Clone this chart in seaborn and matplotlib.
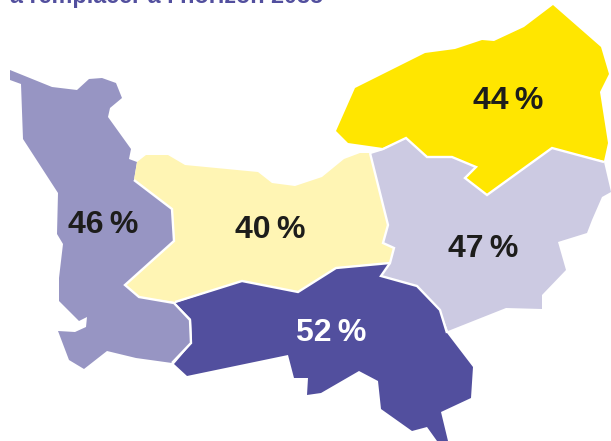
import matplotlib
matplotlib.use("Agg")
import matplotlib.pyplot as plt
import seaborn as sns

## Data
departements = ["Manche", "Calvados", "Eure", "Seine-Maritime", "Orne"]
shares = [46, 40, 47, 44, 52]
colours = ["#9795C3", "#FFF5B4", "#CCCAE2", "#FFE600", "#524F9E"]
text_colours = ["#1D1D1B", "#1D1D1B", "#1D1D1B", "#1D1D1B", "#FFFFFF"]
title = "à remplacer à l’horizon 2035"

# Outlines, in pixels
manche = [(10, 70), (10, 80), (21, 84), (23, 139), (58, 193), (57, 234), (63, 244), (59, 278),
          (59, 301), (79, 321), (87, 317), (86, 327), (75, 332), (58, 331), (69, 360), (84, 369),
          (107, 351), (136, 358), (172, 363), (191, 343), (190, 320), (174, 303), (139, 297),
          (125, 285), (174, 241), (172, 209), (134, 180), (137, 162), (129, 159), (131, 149),
          (108, 117), (110, 108), (122, 98), (116, 83), (102, 78), (89, 79), (77, 90), (52, 87)]
calvados = [(134, 180), (137, 162), (146, 155), (168, 155), (185, 165), (258, 172), (272, 183),
            (295, 186), (322, 177), (344, 159), (360, 153), (370, 153), (388, 225), (383, 243),
            (394, 248), (390, 263), (336, 268), (298, 292), (242, 281), (175, 302), (139, 297),
            (125, 285), (174, 241), (172, 209)]
eure = [(370, 153), (383, 150), (406, 138), (427, 157), (452, 157), (476, 167), (465, 178),
        (487, 195), (552, 148), (604, 162), (611, 192), (602, 197), (592, 220), (587, 233),
        (558, 242), (566, 270), (542, 295), (542, 309), (506, 308), (448, 331), (440, 310),
        (417, 286), (381, 276), (390, 263), (394, 248), (383, 243), (388, 225)]
seine_maritime = [(336, 131), (355, 88), (425, 53), (455, 49), (482, 40), (494, 41), (524, 27),
                  (553, 5), (601, 47), (609, 74), (600, 92), (608, 143), (604, 161), (552, 148),
                  (487, 195), (465, 178), (476, 167), (452, 157), (427, 157), (406, 138),
                  (383, 148), (348, 143)]
orne = [(175, 303), (242, 281), (298, 292), (336, 268), (390, 263), (381, 276), (417, 286),
        (440, 310), (447, 333), (473, 367), (471, 398), (441, 412), (448, 441), (437, 441),
        (427, 427), (412, 431), (381, 409), (378, 381), (359, 371), (321, 393), (307, 395),
        (308, 378), (294, 378), (288, 355), (187, 376), (174, 364), (192, 343), (191, 319)]
outlines = [manche, calvados, eure, seine_maritime, orne]

# White borders between departements, the coast has none
border_manche = [(134, 180), (172, 209), (174, 241), (125, 285), (139, 297), (174, 303),
                 (190, 320), (191, 343), (172, 363)]
border_calvados = [(370, 153), (388, 225), (383, 243), (394, 248), (390, 263), (336, 268),
                   (298, 292), (242, 281), (175, 302)]
border_eure = [(604, 162), (552, 148), (487, 195), (465, 178), (476, 167), (452, 157),
               (427, 157), (406, 138), (383, 149), (370, 153)]
border_orne = [(390, 263), (381, 276), (417, 286), (440, 310), (447, 333)]
borders = [border_manche, border_calvados, border_eure, border_orne]

label_x = [103, 270, 483, 508, 331]
label_y = [225, 230, 249, 101, 333]

## Chart
sns.set_theme(style="white")
plt.rcParams["font.family"] = ["Liberation Sans", "DejaVu Sans"]

fig = plt.figure(figsize=(6.11, 4.41), dpi=100)
ax = fig.add_axes([0, 0, 1, 1])
ax.set_xlim(0, 611)
ax.set_ylim(441, 0)
ax.axis("off")

for outline, colour in zip(outlines, colours):
    xs, ys = zip(*outline)
    ax.fill(xs, ys, facecolor=colour, edgecolor="none")

for border in borders:
    xs, ys = zip(*border)
    ax.plot(xs, ys, color="white", linewidth=1.7, solid_joinstyle="miter", solid_capstyle="butt")

for share, x, y, colour in zip(shares, label_x, label_y, text_colours):
    ax.text(x, y, f"{share}\u2009%", color=colour, fontsize=23, fontweight="bold",
            ha="center", va="center")

# Title is cut by the top edge of the picture
ax.text(10, 3, title, color="#524F9E", fontsize=16.8, fontweight="bold", ha="left", va="baseline")

fig.savefig("out.png", dpi=100)
